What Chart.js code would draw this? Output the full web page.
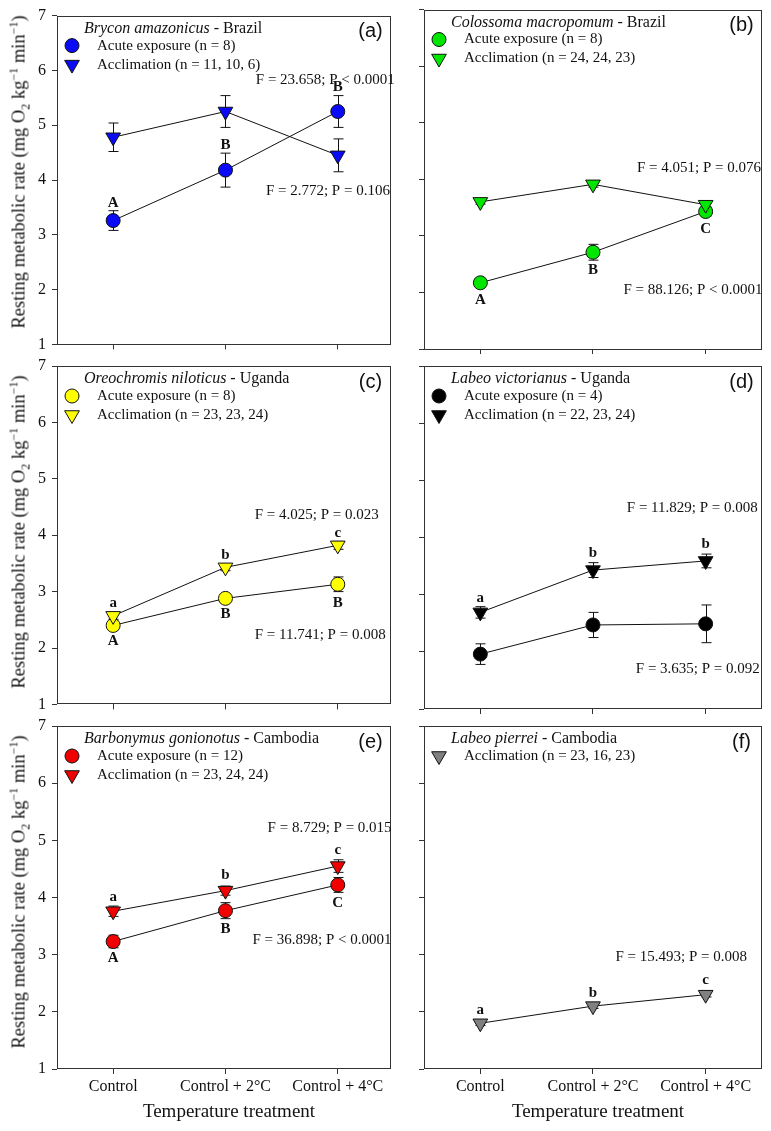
<!DOCTYPE html>
<html>
<head>
<meta charset="utf-8">
<script src="https://cdn.jsdelivr.net/npm/chart.js@4.4.1/dist/chart.umd.min.js"></script>
<style>
  body { margin: 0; background: #fff; }
  #wrap { position: relative; width: 771px; height: 1131px; overflow: hidden; }
  #wrap canvas { position: absolute; }
  .ytitle { position: absolute; font: 18.5px "Liberation Serif", serif; color: #111; white-space: nowrap;
            transform: translate(-50%, -50%) rotate(-90deg); }
  .xtitle { position: absolute; font: 19px "Liberation Serif", serif; color: #111; white-space: nowrap;
            transform: translate(-50%, -50%); }
  sub, sup { font-size: 12px; line-height: 0; }
</style>
</head>
<body>
<div id="wrap"></div>
<script>
// treatments and axis
const treatments = ['Control', 'Control + 2°C', 'Control + 4°C'];
const yTicks = [1, 2, 3, 4, 5, 6, 7];

// (a) Brycon amazonicus
const bryconAcute = [3.26, 4.18, 5.25];
const bryconAcuteSE = [0.18, 0.31, 0.29];
const bryconAccl = [4.78, 5.25, 4.45];
const bryconAcclSE = [0.26, 0.29, 0.30];

// (b) Colossoma macropomum
const colossomaAcute = [2.17, 2.71, 3.43];
const colossomaAcuteSE = [0.08, 0.14, 0.08];
const colossomaAccl = [3.60, 3.91, 3.55];
const colossomaAcclSE = [0.04, 0.05, 0.05];

// (c) Oreochromis niloticus
const oreoAcute = [2.40, 2.88, 3.13];
const oreoAcuteSE = [0.08, 0.08, 0.13];
const oreoAccl = [2.57, 3.43, 3.82];
const oreoAcclSE = [0.06, 0.06, 0.07];

// (d) Labeo victorianus
const victAcute = [1.96, 2.47, 2.49];
const victAcuteSE = [0.18, 0.22, 0.33];
const victAccl = [2.69, 3.43, 3.59];
const victAcclSE = [0.10, 0.13, 0.12];

// (e) Barbonymus gonionotus
const barbAcute = [3.23, 3.77, 4.22];
const barbAcuteSE = [0.11, 0.14, 0.13];
const barbAccl = [3.76, 4.12, 4.55];
const barbAcclSE = [0.09, 0.08, 0.11];

// (f) Labeo pierrei
const pierreiAccl = [1.80, 2.10, 2.30];
const pierreiAcclSE = [0.04, 0.04, 0.04];

// statistics text and significance letters (text, x, y in data units)
const bryconStats = [['F = 23.658; P < 0.0001', 2.27, 5.83], ['F = 2.772; P = 0.106', 2.36, 3.8]];
const bryconLetters = [['A', 1, 3.58], ['B', 2, 4.63], ['B', 3, 5.7]];
const colossomaStats = [['F = 4.051; P = 0.076', 2.39, 4.2], ['F = 88.126; P < 0.0001', 2.27, 2.05]];
const colossomaLetters = [['A', 1, 1.86], ['B', 2, 2.39], ['C', 3, 3.12]];
const oreoStats = [['F = 4.025; P = 0.023', 2.26, 4.36], ['F = 11.741; P = 0.008', 2.26, 2.23]];
const oreoLetters = [['a', 1, 2.80], ['A', 1, 2.12], ['b', 2, 3.64], ['B', 2, 2.6], ['c', 3, 4.04], ['B', 3, 2.80]];
const victStats = [['F = 11.829; P = 0.008', 2.3, 4.52], ['F = 3.635; P = 0.092', 2.38, 1.69]];
const victLetters = [['a', 1, 2.94], ['b', 2, 3.72], ['b', 3, 3.89]];
const barbStats = [['F = 8.729; P = 0.015', 2.375, 5.22], ['F = 36.898; P < 0.0001', 2.24, 3.26]];
const barbLetters = [['a', 1, 4.01], ['A', 1, 2.94], ['b', 2, 4.39], ['B', 2, 3.44], ['c', 3, 4.82], ['C', 3, 3.91]];
const pierreiStats = [['F = 15.493; P = 0.008', 2.2, 2.95]];
const pierreiLetters = [['a', 1, 2.03], ['b', 2, 2.32], ['c', 3, 2.56]];

const SERIF = '"Liberation Serif", "Times New Roman", serif';
const INK = '#111';

function acute(label, values, se, color) {
    return { label, values, se, color, style: 'circle', radius: 7, rotation: 0 };
}
function accl(label, values, se, color) {
    return { label, values, se, color, style: 'triangle', radius: 8.5, rotation: 180 };
}

const panels = [
    { tag: '(a)', col: 0, row: 0, species: 'Brycon amazonicus', country: 'Brazil',
      series: [acute('Acute exposure (n = 8)', bryconAcute, bryconAcuteSE, '#0a0af5'),
               accl('Acclimation (n = 11, 10, 6)', bryconAccl, bryconAcclSE, '#0a0af5')],
      stats: bryconStats, letters: bryconLetters },
    { tag: '(b)', col: 1, row: 0, species: 'Colossoma macropomum', country: 'Brazil',
      series: [acute('Acute exposure (n = 8)', colossomaAcute, colossomaAcuteSE, '#00e600'),
               accl('Acclimation (n = 24, 24, 23)', colossomaAccl, colossomaAcclSE, '#00e600')],
      stats: colossomaStats, letters: colossomaLetters },
    { tag: '(c)', col: 0, row: 1, species: 'Oreochromis niloticus', country: 'Uganda',
      series: [acute('Acute exposure (n = 8)', oreoAcute, oreoAcuteSE, '#ffff00'),
               accl('Acclimation (n = 23, 23, 24)', oreoAccl, oreoAcclSE, '#ffff00')],
      stats: oreoStats, letters: oreoLetters },
    { tag: '(d)', col: 1, row: 1, species: 'Labeo victorianus', country: 'Uganda',
      series: [acute('Acute exposure (n = 4)', victAcute, victAcuteSE, '#000000'),
               accl('Acclimation (n = 22, 23, 24)', victAccl, victAcclSE, '#000000')],
      stats: victStats, letters: victLetters },
    { tag: '(e)', col: 0, row: 2, species: 'Barbonymus gonionotus', country: 'Cambodia',
      series: [acute('Acute exposure (n = 12)', barbAcute, barbAcuteSE, '#f00000'),
               accl('Acclimation (n = 23, 24, 24)', barbAccl, barbAcclSE, '#f00000')],
      stats: barbStats, letters: barbLetters },
    { tag: '(f)', col: 1, row: 2, species: 'Labeo pierrei', country: 'Cambodia',
      series: [accl('Acclimation (n = 23, 16, 23)', pierreiAccl, pierreiAcclSE, '#808080')],
      stats: pierreiStats, letters: pierreiLetters }
];

// error bars, frame, legend and annotations
const decor = {
    id: 'decor',
    beforeDatasetsDraw(chart, args, o) {
        const { ctx, scales: { x, y } } = chart;
        ctx.save();
        ctx.strokeStyle = INK;
        ctx.lineWidth = 1;
        o.series.forEach(s => s.values.forEach((v, i) => {
            const px = Math.round(x.getPixelForValue(i + 1)) + 0.5;
            const top = y.getPixelForValue(v + s.se[i]);
            const bot = y.getPixelForValue(v - s.se[i]);
            ctx.beginPath();
            ctx.moveTo(px, top); ctx.lineTo(px, bot);
            ctx.moveTo(px - 5, top); ctx.lineTo(px + 5, top);
            ctx.moveTo(px - 5, bot); ctx.lineTo(px + 5, bot);
            ctx.stroke();
        }));
        ctx.restore();
    },
    afterDraw(chart, args, o) {
        const { ctx, chartArea: a, scales: { x, y } } = chart;
        ctx.save();
        ctx.strokeStyle = '#333';
        ctx.lineWidth = 1;
        ctx.strokeRect(Math.round(a.left) + 0.5, Math.round(a.top) + 0.5,
                       Math.round(a.right - a.left) - 1, Math.round(a.bottom - a.top) - 1);

        // species title
        ctx.fillStyle = INK;
        ctx.textBaseline = 'middle';
        ctx.textAlign = 'left';
        ctx.font = 'italic 16px ' + SERIF;
        ctx.fillText(o.species, a.left + 27, a.top + 13);
        const w = ctx.measureText(o.species).width;
        ctx.font = '16px ' + SERIF;
        ctx.fillText(' - ' + o.country, a.left + 27 + w, a.top + 13);

        // legend
        o.series.forEach((s, i) => {
            const ly = a.top + 30 + i * 19;
            ctx.fillStyle = s.color;
            ctx.strokeStyle = INK;
            ctx.lineWidth = 1;
            Chart.helpers.drawPoint(ctx, { pointStyle: s.style, radius: s.radius, rotation: s.rotation, borderWidth: 1 },
                                    a.left + 15, ly);
            ctx.fillStyle = INK;
            ctx.font = '15px ' + SERIF;
            ctx.fillText(s.label, a.left + 40, ly);
        });

        // panel tag
        ctx.font = '20px "Liberation Sans", Arial, sans-serif';
        ctx.textAlign = 'center';
        ctx.fillText(o.tag, a.right - 20, a.top + 16);

        // statistics
        ctx.textAlign = 'left';
        ctx.font = '15px ' + SERIF;
        o.stats.forEach(([t, sx, sy]) => ctx.fillText(t, x.getPixelForValue(sx), y.getPixelForValue(sy)));

        // letters
        ctx.textAlign = 'center';
        ctx.font = 'bold 15px ' + SERIF;
        o.letters.forEach(([t, lx, lv]) => ctx.fillText(t, x.getPixelForValue(lx), y.getPixelForValue(lv)));
        ctx.restore();
    }
};

const wrap = document.getElementById('wrap');

panels.forEach(p => {
    const left = p.col === 0;
    const canvasLeft = left ? 0 : 400;
    const canvasW = left ? 400 : 371;
    const areaLeft = left ? 57 : 424;
    const areaRight = left ? 397 : 767;
    const areaTop = 6 + p.row * 360;
    const areaBottom = 349 + p.row * 360;
    const canvasTop = Math.max(0, p.row * 360 - 10);
    const canvasBottom = p.row === 2 ? 1131 : (p.row + 1) * 360;
    const pxPerCat = 114.5;

    const cv = document.createElement('canvas');
    cv.width = canvasW;
    cv.height = canvasBottom - canvasTop;
    cv.style.left = canvasLeft + 'px';
    cv.style.top = canvasTop + 'px';
    wrap.appendChild(cv);

    const datasets = p.series.map(s => ({
        label: s.label,
        data: s.values.map((v, i) => ({ x: i + 1, y: v })),
        showLine: true,
        borderColor: INK,
        borderWidth: 1,
        pointStyle: s.style,
        pointRotation: s.rotation,
        pointRadius: s.radius,
        pointBackgroundColor: s.color,
        pointBorderColor: INK,
        pointBorderWidth: 1,
        order: s.style === 'triangle' ? 0 : 1
    }));

    new Chart(cv, {
        type: 'scatter',
        data: { datasets },
        plugins: [decor],
        options: {
            responsive: false,
            animation: false,
            events: [],
            layout: { padding: { top: areaTop - canvasTop, right: canvasLeft + canvasW - areaRight, bottom: 0, left: 0 } },
            plugins: {
                legend: { display: false },
                tooltip: { enabled: false },
                decor: { tag: p.tag, species: p.species, country: p.country, series: p.series,
                         stats: p.stats, letters: p.letters }
            },
            scales: {
                x: {
                    type: 'linear',
                    min: 0.5,
                    max: 0.5 + (areaRight - areaLeft) / pxPerCat,
                    afterBuildTicks: s => { s.ticks = treatments.map((t, i) => ({ value: i + 1 })); },
                    afterFit: s => { s.height = canvasBottom - areaBottom; },
                    grid: { drawOnChartArea: false, drawTicks: true, tickLength: 5, color: '#333' },
                    border: { display: false },
                    ticks: {
                        display: p.row === 2,
                        autoSkip: false,
                        maxRotation: 0,
                        padding: 3,
                        color: INK,
                        font: { family: SERIF, size: 16 },
                        callback: v => treatments[v - 1]
                    }
                },
                y: {
                    type: 'linear',
                    min: yTicks[0],
                    max: yTicks[yTicks.length - 1],
                    afterBuildTicks: s => { s.ticks = yTicks.map(v => ({ value: v })); },
                    afterFit: s => { s.width = areaLeft - canvasLeft; },
                    grid: { drawOnChartArea: false, drawTicks: true, tickLength: 5, color: '#333' },
                    border: { display: false },
                    ticks: {
                        display: left,
                        padding: 6,
                        color: INK,
                        font: { family: SERIF, size: 16 }
                    }
                }
            }
        }
    });

    if (left) {
        const yt = document.createElement('div');
        yt.className = 'ytitle';
        yt.style.left = '19px';
        yt.style.top = (areaTop + areaBottom) / 2 - 6 + 'px';
        yt.innerHTML = 'Resting metabolic rate (mg O<sub>2</sub> kg<sup>\u22121</sup> min<sup>\u22121</sup>)';
        wrap.appendChild(yt);
    }
    if (p.row === 2) {
        const xt = document.createElement('div');
        xt.className = 'xtitle';
        xt.style.left = (left ? 229 : 598) + 'px';
        xt.style.top = '1111px';
        xt.textContent = 'Temperature treatment';
        wrap.appendChild(xt);
    }
});
</script>
</body>
</html>
